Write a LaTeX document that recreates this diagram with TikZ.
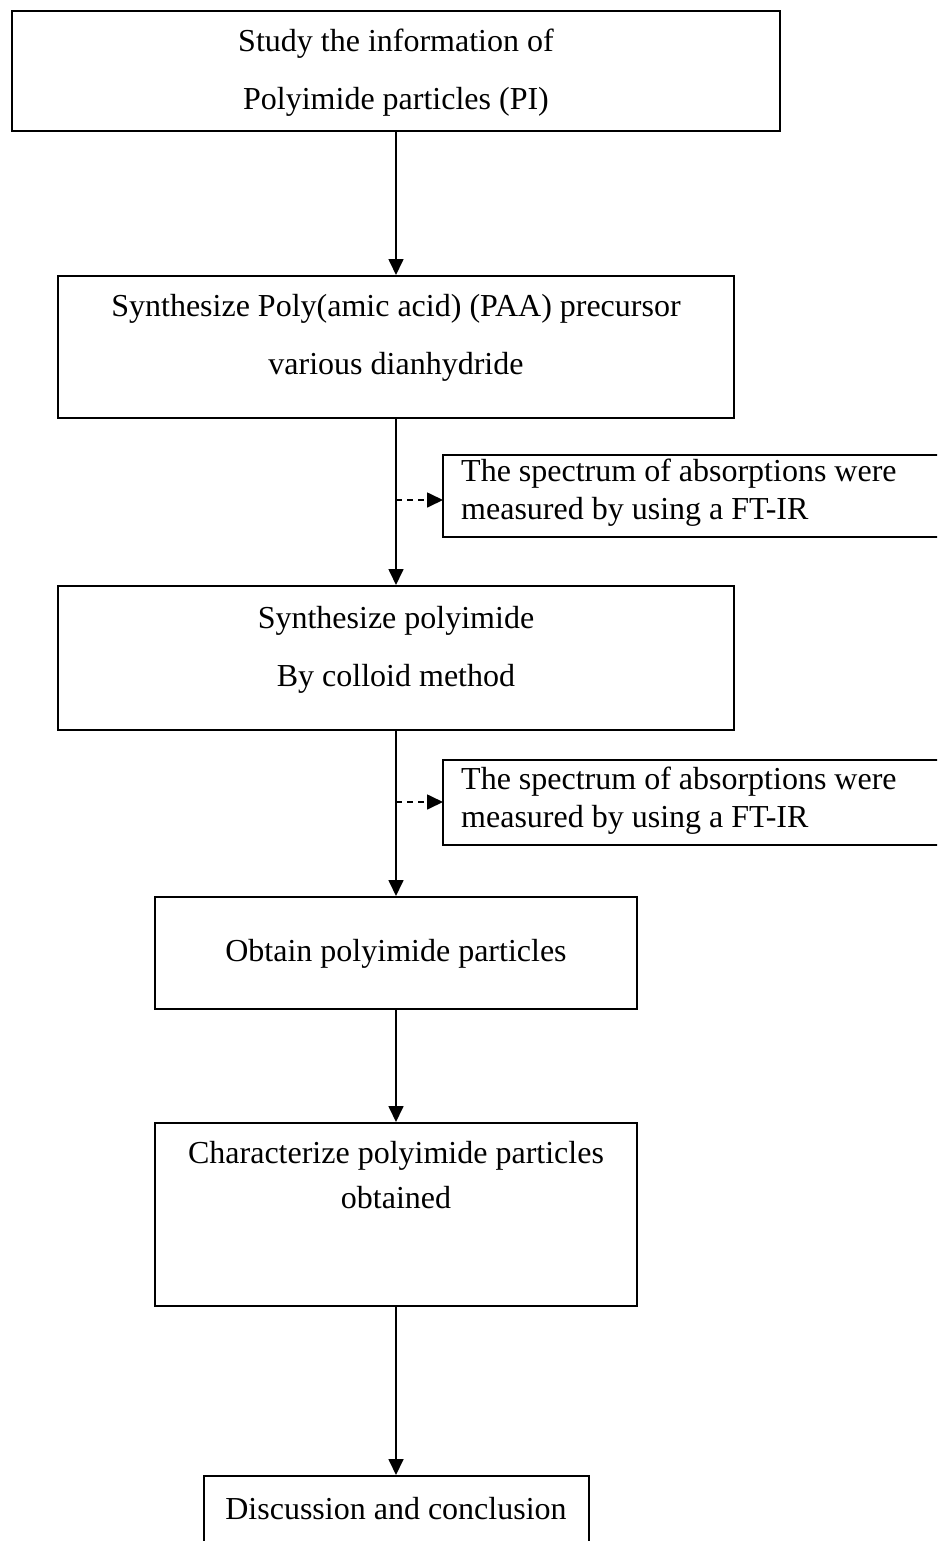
\documentclass[tikz,border=0pt]{standalone}
\usepackage{fontspec}
\setmainfont{Liberation Serif}
\usetikzlibrary{arrows.meta}

\tikzset{
  stepbox/.style={draw, line width=2pt, inner sep=0pt, anchor=north},
  steptext/.style={align=center, inner sep=0pt, anchor=north, font=\fontsize{32}{58}\selectfont},
  sidetext/.style={align=left, inner sep=0pt, anchor=north west, font=\fontsize{32}{38}\selectfont},
  flow/.style={line width=1.7pt, -{Triangle[length=16pt,width=15pt]}},
  branch/.style={line width=1.7pt, dash pattern=on 6pt off 5pt, -{Triangle[length=16pt,width=15pt]}}
}

\begin{document}
\begin{tikzpicture}[x=1pt, y=-1pt]
    \clip (0,0) rectangle (937,1541);
    \fill[white] (0,0) rectangle (937,1541);

    % main steps
    \node[stepbox, minimum width=768pt, minimum height=120pt] (study) at (396,10) {};
    \node[stepbox, minimum width=676pt, minimum height=142pt] (paa) at (396,275) {};
    \node[stepbox, minimum width=676pt, minimum height=144pt] (pi) at (396,585) {};
    \node[stepbox, minimum width=482pt, minimum height=112pt] (obtain) at (396,896) {};
    \node[stepbox, minimum width=482pt, minimum height=183pt] (charact) at (396,1122) {};
    \node[stepbox, minimum width=385pt, minimum height=120pt] (discuss) at (396,1475) {};

    \node[steptext] (studytxt) at (396,29) {Study the information of\\Polyimide particles (PI)};
    \node[steptext] (paatxt) at (396,294) {Synthesize Poly(amic acid) (PAA) precursor\\various dianhydride};
    \node[steptext] (pitxt) at (396,606) {Synthesize polyimide\\By colloid method};
    \node[steptext] (obtaintxt) at (396,939) {Obtain polyimide particles};
    \node[steptext, font=\fontsize{32}{45}\selectfont] (characttxt) at (396,1141) {Characterize polyimide particles\\obtained};
    \node[steptext] (discusstxt) at (396,1497) {Discussion and conclusion};

    % FT-IR checks
    \draw[line width=2pt] (443,455) rectangle (950,537);
    \draw[line width=2pt] (443,760) rectangle (950,845);
    \node[sidetext] (ftir1txt) at (461,459) {The spectrum of absorptions were\\measured by using a FT-IR};
    \node[sidetext] (ftir2txt) at (461,767) {The spectrum of absorptions were\\measured by using a FT-IR};

    \draw[flow] (study.south) -- (paa.north);
    \draw[flow] (paa.south) -- (pi.north);
    \draw[flow] (pi.south) -- (obtain.north);
    \draw[flow] (obtain.south) -- (charact.north);
    \draw[flow] (charact.south) -- (discuss.north);

    \coordinate (fork1) at (396,500);
    \coordinate (fork2) at (396,802);
    \draw[branch] (fork1) -- (443,500);
    \draw[branch] (fork2) -- (443,802);
\end{tikzpicture}
\end{document}
